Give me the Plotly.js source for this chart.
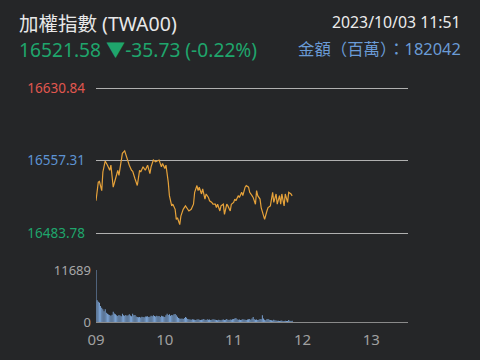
<!DOCTYPE html>
<html>
<head>
<meta charset="utf-8">
<script src="https://cdn.plot.ly/plotly-3.0.1.min.js"></script>
<style>
html,body{margin:0;padding:0;background:#252628;}
#chart{width:480px;height:360px;}
</style>
</head>
<body>
<div id="chart"></div>
<script>
// ---- data ----
const tradeDate = "2023-10-03";
const priceTimes = ["09:00","09:02","09:03","09:05","09:06","09:08","09:10","09:12","09:13","09:15",
"09:17","09:19","09:20","09:23","09:25","09:27","09:29","09:31","09:32","09:34",
"09:36","09:38","09:39","09:41","09:43","09:45","09:47","09:48","09:50","09:52",
"09:55","09:57","09:58","10:00","10:01","10:03","10:04","10:06","10:07","10:09",
"10:10","10:11","10:13","10:14","10:16","10:18","10:19","10:21","10:23","10:25",
"10:26","10:28","10:29","10:30","10:32","10:33","10:35","10:36","10:38","10:39",
"10:41","10:42","10:44","10:45","10:46","10:48","10:49","10:51","10:52","10:54",
"10:55","10:57","10:58","11:00","11:01","11:02","11:04","11:05","11:07","11:08",
"11:10","11:11","11:13","11:14","11:16","11:17","11:19","11:20","11:21","11:23",
"11:24","11:26","11:27","11:29","11:30","11:32","11:33","11:34","11:35","11:37",
"11:38","11:40","11:41","11:42","11:44","11:45","11:47","11:48","11:50","11:51"];
const priceValues = [16516.6,16535.6,16536.2,16526.9,16545.9,16557.0,16552.8,16547.6,16552.8,16530.4,
16539.0,16547.6,16542.5,16564.9,16567.3,16559.7,16552.8,16547.6,16546.6,16539.0,
16532.1,16547.6,16545.9,16551.1,16547.6,16552.8,16544.2,16551.1,16558.0,16556.3,
16558.0,16551.1,16554.6,16549.4,16552.8,16535.6,16521.8,16511.4,16513.1,16507.9,
16497.6,16499.3,16492.4,16501.0,16507.9,16511.4,16509.7,16506.2,16507.9,16513.1,
16525.2,16532.1,16526.9,16530.4,16523.5,16528.7,16518.3,16523.5,16520.0,16516.6,
16514.9,16513.1,16513.1,16509.7,16513.1,16506.2,16511.4,16513.1,16502.8,16513.1,
16511.4,16506.2,16513.1,16514.9,16518.3,16516.6,16521.8,16520.0,16525.2,16521.8,
16530.4,16532.1,16530.4,16525.2,16521.8,16520.0,16513.1,16526.9,16521.8,16518.3,
16509.7,16502.8,16497.6,16506.2,16509.7,16511.4,16516.6,16525.2,16514.9,16523.5,
16513.1,16521.8,16513.1,16523.5,16511.4,16523.5,16514.9,16525.2,16523.5,16521.58];

// volume per minute from 09:00 to 11:51
const volumeStart = "09:00";
const volumeValues = [11689,4880,4570,4350,3600,3220,2850,2400,2850,2100,
1870,1700,1580,1400,1650,2330,1900,1725,1500,1350,
1600,1450,1300,1870,1500,1420,1600,1380,1500,1720,
1450,1300,1870,1500,1580,1250,1100,1050,1150,1000,
1200,1100,1050,1250,1250,1300,1150,1200,1400,1300,
1500,1350,1250,1400,1300,1350,1150,1400,1300,1250,
1100,1500,1870,1600,1720,1400,1600,1500,1720,1800,
1500,1200,900,800,750,800,700,900,1100,950,
700,600,550,500,600,550,500,450,550,600,
500,450,500,550,650,500,450,600,500,550,
450,500,600,550,500,450,400,500,450,400,
500,550,450,500,650,500,450,550,500,600,
700,800,900,600,500,550,450,500,600,550,
500,450,550,600,700,500,800,1100,600,500,
550,450,500,700,600,1500,800,500,400,600,
700,500,450,400,350,500,400,350,300,300,
250,300,350,250,250,300,200,250,450,300,
250,300];

const priceTicks = [16483.78, 16557.31, 16630.84];
const priceTickColors = ["#1fa56c", "#5d93d3", "#e0574f"];
const xTickHours = ["09","10","11","12","13"];

const headerName = "加權指數 (TWA00)";
const headerQuote = "16521.58 ▼-35.73 (-0.22%)";
const headerTime = "2023/10/03 11:51";
const headerAmount = "金額（百萬）：182042";

// ---- build ----
function ts(t){ return tradeDate + " " + t + ":00"; }
const priceX = priceTimes.map(ts);
const [vh, vm] = volumeStart.split(":").map(Number);
const volX = volumeValues.map((v,i)=>{
  const m = vh*60 + vm + i;
  const hh = String(Math.floor(m/60)).padStart(2,"0");
  const mm = String(m%60).padStart(2,"0");
  return ts(hh+":"+mm);
});

const font = "Noto Sans, Noto Sans CJK TC, sans-serif";
const W = 480, H = 360, ML = 96, MR = 72, MT = 87, MB = 38;
const PW = W - ML - MR, PH = H - MT - MB;
const px = x => (x - ML) / PW;
const py = y => (H - MB - y) / PH;
const pad = 1.5;

const traces = [
  {x: priceX, y: priceValues, type: "scatter", mode: "lines",
   line: {color: "#e6a23a", width: 1.2}, xaxis: "x", yaxis: "y", hoverinfo: "skip"},
  {x: volX, y: volumeValues, type: "bar",
   marker: {color: "#86b3ea", line: {width: 0}}, xaxis: "x", yaxis: "y2", hoverinfo: "skip"}
];

const layout = {
  width: W, height: H,
  paper_bgcolor: "#252628", plot_bgcolor: "#252628",
  margin: {l: ML, r: MR, t: MT, b: MB},
  showlegend: false,
  bargap: 0.25,
  font: {family: font, color: "#a8a8a8", size: 13},
  xaxis: {
    type: "date", anchor: "y2",
    range: [ts("09:00"), ts("13:32")],
    tickvals: xTickHours.map(h => ts(h + ":00")),
    ticktext: xTickHours,
    tickfont: {size: 15, color: "#a0a0a0"},
    showgrid: false, zeroline: false,
    showline: true, linecolor: "#8a8a8a", linewidth: 1,
    ticks: "", ticklabelstandoff: 4
  },
  yaxis: {
    domain: [py(234.5), 1],
    range: [priceTicks[0] - pad, priceTicks[2] + pad],
    tickvals: priceTicks,
    ticktext: priceTicks.map((v,i)=>'<span style="color:' + priceTickColors[i] + '">' + v.toFixed(2) + '</span>'),
    tickfont: {size: 13.5},
    showgrid: true, gridcolor: "#b0b0b0", gridwidth: 1,
    zeroline: false, showline: false, ticks: "",
    ticklabelstandoff: 10
  },
  yaxis2: {
    domain: [0, py(270)],
    range: [0, 11689],
    tickvals: [0, 11689],
    ticktext: ["0", "11689"],
    tickfont: {size: 13, color: "#a8a8a8"},
    showgrid: false, zeroline: false, showline: false, ticks: "",
    ticklabelstandoff: 4
  },
  annotations: [
    {text: headerName, xref: "paper", yref: "paper", x: px(17), y: py(24),
     xanchor: "left", yanchor: "middle", showarrow: false,
     font: {size: 19.5, color: "#e8e8e8", family: font}},
    {text: headerQuote, xref: "paper", yref: "paper", x: px(17), y: py(49),
     xanchor: "left", yanchor: "middle", showarrow: false,
     font: {size: 19.2, color: "#1fa56c", family: font}},
    {text: headerTime, xref: "paper", yref: "paper", x: px(463), y: py(22),
     xanchor: "right", yanchor: "middle", showarrow: false,
     font: {size: 15.8, color: "#ececec", family: font}},
    {text: headerAmount, xref: "paper", yref: "paper", x: px(463), y: py(48),
     xanchor: "right", yanchor: "middle", showarrow: false,
     font: {size: 16.4, color: "#6a9bd6", family: font}}
  ]
};

Plotly.newPlot("chart", traces, layout, {displayModeBar: false, staticPlot: true});
</script>
</body>
</html>
